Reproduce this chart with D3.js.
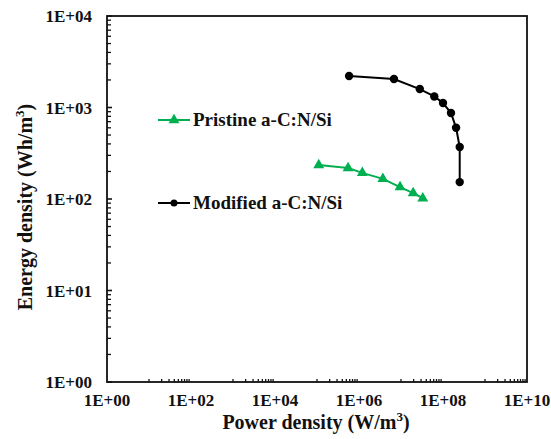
<!DOCTYPE html>
<html>
<head>
<meta charset="utf-8">
<script src="https://cdn.jsdelivr.net/npm/d3@7"></script>
<style>
  html, body { margin: 0; padding: 0; background: #fff; }
</style>
</head>
<body>
<svg id="chart" width="551" height="439"></svg>
<script>
// Power density (W/m^3) and energy density (Wh/m^3)
const pristinePower  = [1.1e5, 5.5e5, 1.2e6, 3.7e6, 9.5e6, 1.95e7, 3.3e7];
const pristineEnergy = [235, 218, 193, 166, 135, 116, 102];
const modifiedPower  = [5.8e5, 6.8e6, 2.8e7, 6.2e7, 1.0e8, 1.55e8, 2.05e8, 2.5e8, 2.5e8];
const modifiedEnergy = [2210, 2050, 1590, 1320, 1120, 870, 600, 370, 153];

const xTickValues = [1e0, 1e2, 1e4, 1e6, 1e8, 1e10];
const yTickValues = [1e0, 1e1, 1e2, 1e3, 1e4];
const xTitle = "Power density (W/m";
const yTitle = "Energy density (Wh/m";
const seriesNames = ["Pristine a-C:N/Si", "Modified a-C:N/Si"];
const seriesColors = ["#00B050", "#000000"];

const svg = d3.select("#chart");
const plot = { left: 107, right: 527, top: 16, bottom: 382 };
const ink = "#111";
const serif = '"Liberation Serif"';

// Apply the bold serif face used by all chart text
const styleText = (sel, size) => sel
  .style("font-family", serif).style("font-weight", "bold")
  .style("font-size", size + "px").attr("fill", ink);

const x = d3.scaleLog().domain([1e0, 1e10]).range([plot.left, plot.right]);
const y = d3.scaleLog().domain([1e0, 1e4]).range([plot.bottom, plot.top]);

// Minor ticks: x axis steps every 10 within each 2-decade major unit, y axis 2..9 per decade
const xMinor = [];
for (let d = 0; d < 10; d += 2) {
  for (let k = 1; k <= 9; k++) xMinor.push(k * Math.pow(10, d + 1));
}
const yMinor = [];
for (let d = 0; d < 4; d++) {
  for (let k = 2; k <= 9; k++) yMinor.push(k * Math.pow(10, d));
}

const ticks = svg.append("g").attr("stroke", ink);
ticks.selectAll(".xm").data(xMinor).join("line")
  .attr("x1", d => x(d)).attr("x2", d => x(d))
  .attr("y1", plot.bottom).attr("y2", plot.bottom - 3).attr("stroke-width", 1.3);
ticks.selectAll(".ym").data(yMinor).join("line")
  .attr("x1", plot.left).attr("x2", plot.left + 4)
  .attr("y1", d => y(d)).attr("y2", d => y(d)).attr("stroke-width", 1.3);
ticks.selectAll(".yM").data(yTickValues).join("line")
  .attr("x1", plot.left).attr("x2", plot.left + 5)
  .attr("y1", d => y(d)).attr("y2", d => y(d)).attr("stroke-width", 1.6);

// Frame
svg.append("rect")
  .attr("x", plot.left).attr("y", plot.top)
  .attr("width", plot.right - plot.left).attr("height", plot.bottom - plot.top)
  .attr("fill", "none").attr("stroke", ink).attr("stroke-width", 1.8);

// Tick labels
const fmt = v => "1E+" + String(Math.round(Math.log10(v))).padStart(2, "0");
svg.append("g").selectAll("text").data(xTickValues).join("text")
  .attr("x", d => x(d)).attr("y", 406)
  .attr("text-anchor", "middle")
  .call(styleText, 17)
  .text(fmt);
svg.append("g").selectAll("text").data(yTickValues).join("text")
  .attr("x", 92).attr("y", d => y(d) + 6)
  .attr("text-anchor", "end")
  .call(styleText, 17)
  .text(fmt);

// Axis titles
const xt = svg.append("text").attr("x", 316).attr("y", 429)
  .attr("text-anchor", "middle").call(styleText, 20).text(xTitle);
xt.append("tspan").style("font-size", "13px").attr("dy", -8).text("3");
xt.append("tspan").attr("dy", 8).text(")");

const yt = svg.append("text")
  .attr("transform", "translate(32,207) rotate(-90)")
  .attr("text-anchor", "middle").call(styleText, 20).text(yTitle);
yt.append("tspan").style("font-size", "13px").attr("dy", -8).text("3");
yt.append("tspan").attr("dy", 8).text(")");

// Series
const line = d3.line().x(d => x(d[0])).y(d => y(d[1]));
const pristine = pristinePower.map((p, i) => [p, pristineEnergy[i]]);
const modified = modifiedPower.map((p, i) => [p, modifiedEnergy[i]]);

const tri = d3.symbol().type(d3.symbolTriangle).size(52);

svg.append("path").datum(pristine).attr("d", line)
  .attr("fill", "none").attr("stroke", seriesColors[0]).attr("stroke-width", 2);
svg.append("g").selectAll("path").data(pristine).join("path")
  .attr("d", tri).attr("transform", d => `translate(${x(d[0])},${y(d[1])})`)
  .attr("fill", seriesColors[0]);

svg.append("path").datum(modified).attr("d", line)
  .attr("fill", "none").attr("stroke", seriesColors[1]).attr("stroke-width", 2);
svg.append("g").selectAll("circle").data(modified).join("circle")
  .attr("cx", d => x(d[0])).attr("cy", d => y(d[1])).attr("r", 4.2)
  .attr("fill", seriesColors[1]);

// Legend
const legend = [
  { name: seriesNames[0], color: seriesColors[0], shape: "tri", y: 120 },
  { name: seriesNames[1], color: seriesColors[1], shape: "circle", y: 203 }
];
const lg = svg.append("g").selectAll("g").data(legend).join("g")
  .attr("transform", d => `translate(0,${d.y})`);
lg.append("line").attr("x1", 158).attr("x2", 190).attr("y1", 0).attr("y2", 0)
  .attr("stroke", d => d.color).attr("stroke-width", 2);
lg.each(function(d) {
  const g = d3.select(this);
  if (d.shape === "tri") {
    g.append("path").attr("d", tri).attr("transform", "translate(174,0)").attr("fill", d.color);
  } else {
    g.append("circle").attr("cx", 174).attr("cy", 0).attr("r", 3.5).attr("fill", d.color);
  }
});
lg.append("text").attr("x", 193).attr("y", 6).call(styleText, 19).text(d => d.name);
</script>
</body>
</html>
